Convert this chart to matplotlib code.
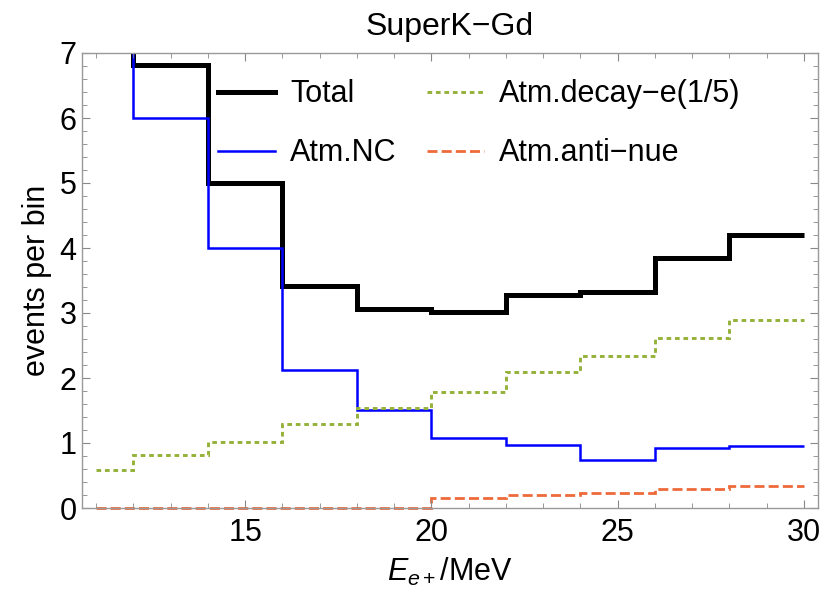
import matplotlib
matplotlib.use("Agg")
import matplotlib.pyplot as plt
from matplotlib.ticker import MultipleLocator
from matplotlib.lines import Line2D

plt.rcParams['font.family'] = ['Liberation Sans', 'DejaVu Sans']
plt.rcParams['mathtext.fontset'] = 'custom'
plt.rcParams['mathtext.rm'] = 'Liberation Sans'
plt.rcParams['mathtext.it'] = 'Liberation Sans:italic'

# bin edges (MeV)
edges = [11, 12, 14, 16, 18, 20, 22, 24, 26, 28, 30]
total = [8.4, 6.81, 5.0, 3.41, 3.06, 3.02, 3.27, 3.33, 3.84, 4.2]
atm_nc = [7.8, 6.0, 4.0, 2.13, 1.51, 1.07, 0.97, 0.74, 0.92, 0.95]
decay_e = [0.59, 0.81, 1.01, 1.29, 1.54, 1.78, 2.09, 2.34, 2.62, 2.90]
anti_nue = [0.0, 0.0, 0.0, 0.0, 0.0, 0.16, 0.20, 0.23, 0.29, 0.34]

labels = ['Total', 'Atm.NC', 'Atm.decay\u2212e(1/5)', 'Atm.anti\u2212nue']
colors = ['black', '#0000FF', '#94B23A', '#EE6A3A']
widths = [3.6, 1.8, 2.1, 2.0]
styles = ['-', '-', (0, (1.6, 1.3)), (0, (3.6, 1.5))]

fig = plt.figure(figsize=(8.25, 5.99), dpi=100)
ax = fig.add_axes([82/825, 1-508/599, 736/825, 455/599])

series = [total, atm_nc, decay_e, anti_nue]
for i, vals in enumerate(series):
    ax.stairs(vals, edges, baseline=None, color=colors[i], lw=widths[i],
              linestyle=styles[i], clip_on=(i != 3))

ax.set_xlim(10.62, 30.38)
ax.set_ylim(0, 7)
ax.xaxis.set_major_locator(MultipleLocator(5))
ax.xaxis.set_minor_locator(MultipleLocator(1))
ax.yaxis.set_major_locator(MultipleLocator(1))
ax.yaxis.set_minor_locator(MultipleLocator(0.2))
ax.tick_params(which='both', direction='in', top=True, right=True, color='#888888')
ax.tick_params(which='major', length=6, width=0.8, labelsize=22)
ax.tick_params(axis='x', which='major', pad=7)
ax.tick_params(axis='y', which='major', pad=4)
ax.tick_params(which='minor', length=3.5, width=0.6)
for s in ax.spines.values():
    s.set_color('#999999')
    s.set_linewidth(1.0)

ax.set_xlabel(r'$E_{e+}$/MeV', fontsize=22, labelpad=6)
ax.set_ylabel('events per bin', fontsize=22, labelpad=5)
ax.set_title('SuperK\u2212Gd', fontsize=23, pad=13)

hl = [Line2D([], [], color=colors[i], lw=widths[i], linestyle=styles[i]) for i in range(4)]
ax.legend(hl, labels, ncol=2, loc='upper left', bbox_to_anchor=(0.185, 0.942),
          frameon=False, fontsize=22, handlelength=1.85, handletextpad=0.5,
          columnspacing=1.0, labelspacing=0.95, borderpad=0, borderaxespad=0)

fig.savefig('out.png', dpi=100)
